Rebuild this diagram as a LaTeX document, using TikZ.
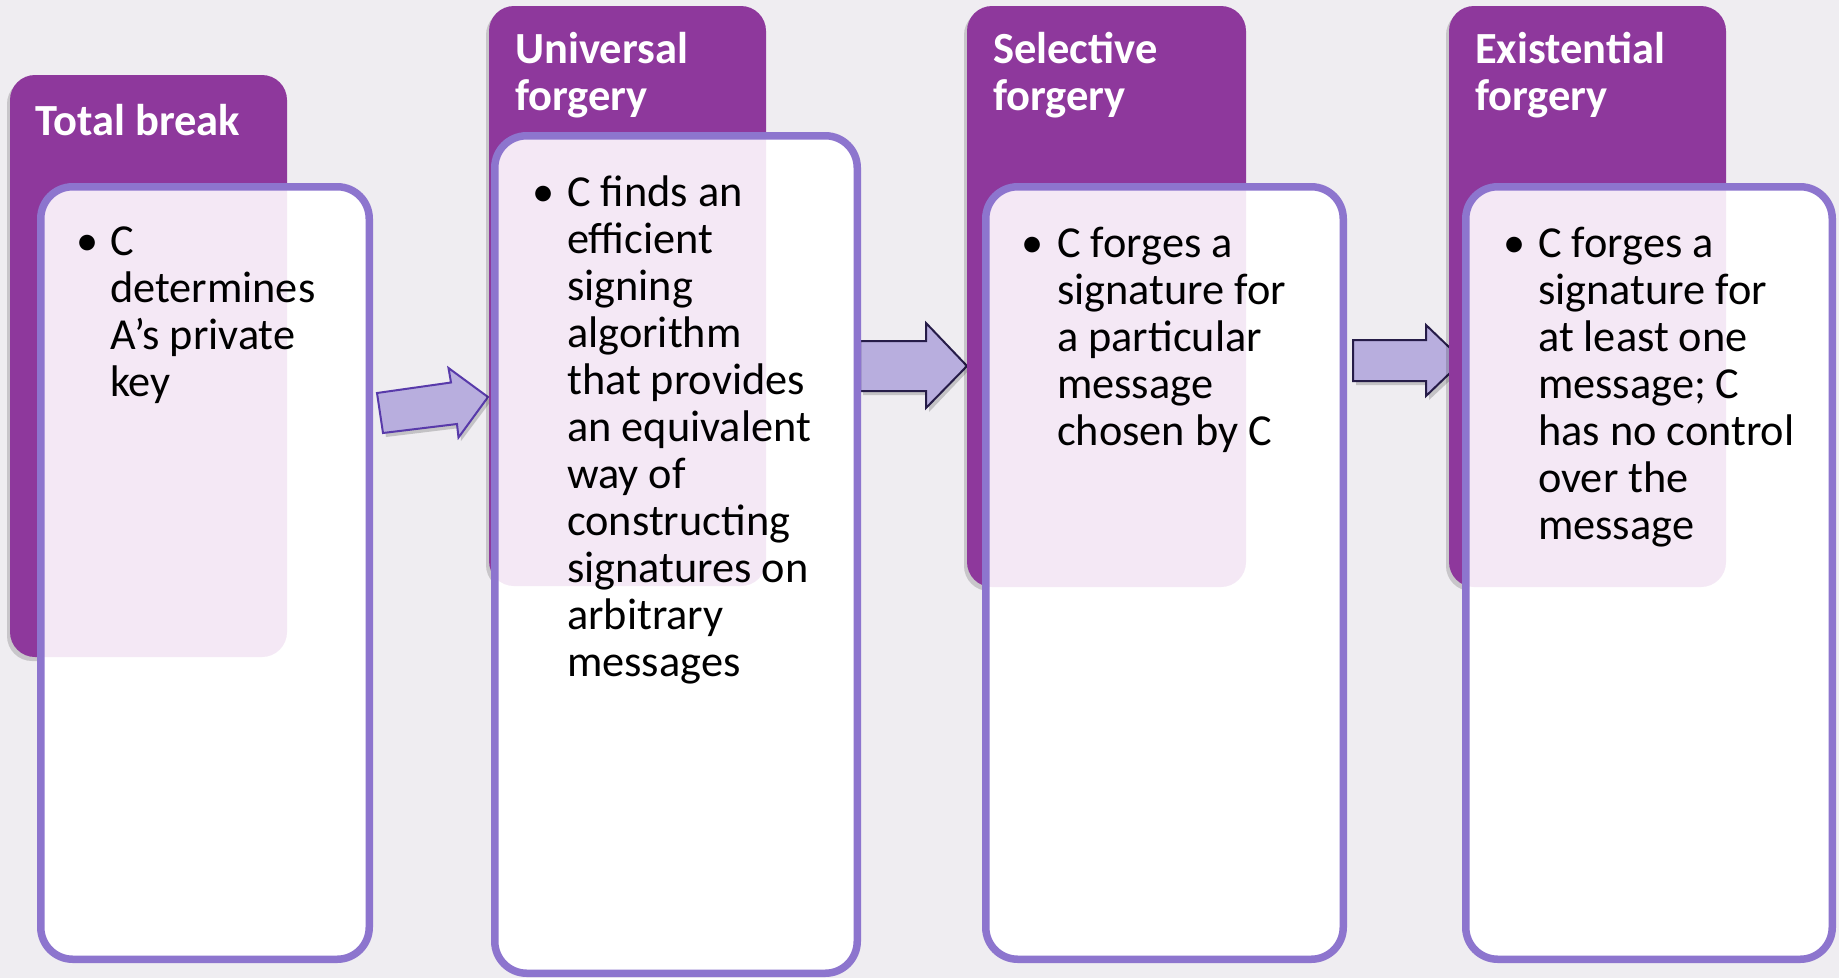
\documentclass[tikz,border=0pt]{standalone}
\usepackage{fontspec}
\setmainfont{Carlito}
\definecolor{bg}{RGB}{239,237,241}
\definecolor{hdr}{RGB}{142,56,156}
\definecolor{frame}{RGB}{141,117,206}
\definecolor{pinkov}{RGB}{244,232,245}
\definecolor{arrfill}{RGB}{184,174,222}
\definecolor{arrdrawA}{RGB}{88,58,170}
\definecolor{arrdrawB}{RGB}{38,28,72}
\tikzset{
  hdrbox/.style={fill=hdr, rounded corners=25pt},
  hdrshadow/.style={fill=black, opacity=0.16, rounded corners=25pt},
  pinkbox/.style={fill=pinkov, rounded corners=25pt},
  innerbox/.style={fill=white, rounded corners=32pt},
  framebox/.style={draw=frame, line width=7.5pt, rounded corners=32pt},
  headtext/.style={anchor=base west, inner sep=0pt, text=white, font=\fontsize{44.5}{47}\selectfont\bfseries},
  bodytext/.style={anchor=base west, inner sep=0pt, text=black, font=\fontsize{44.3}{47}\selectfont},
  bullettext/.style={anchor=base, inner sep=0pt, text=black, font=\fontsize{44.3}{47}\selectfont},
  blockarrow/.style={fill=arrfill, line width=2pt, line join=miter},
  arrowshadow/.style={fill=black, opacity=0.18},
}
\begin{document}
\begin{tikzpicture}[x=1pt, y=-1pt]
\useasboundingbox (0,0) rectangle (1839,978);
\fill[bg] (0,0) rectangle (1839,978);

% block arrows (shadows first)
\fill[arrowshadow] (380,397) -- (454,386) -- (451,372) -- (491,401) -- (461,441) -- (460,428) -- (386,437) -- cycle;
\fill[arrowshadow] (863,345) -- (929,345) -- (929,327) -- (970,369) -- (929,412) -- (929,395) -- (863,395) -- cycle;
\fill[arrowshadow] (1356,344) -- (1429,344) -- (1429,329) -- (1467,364.5) -- (1429,400) -- (1429,385) -- (1356,385) -- cycle;
\filldraw[blockarrow, draw=arrdrawA] (377,393) -- (451,382.5) -- (448.5,368) -- (488,397) -- (458.5,437.5) -- (457,424) -- (383,433) -- cycle;
\filldraw[blockarrow, draw=arrdrawB] (860,341) -- (926,341) -- (926,323) -- (967,366) -- (926,408) -- (926,391) -- (860,391) -- cycle;
\filldraw[blockarrow, draw=arrdrawB] (1353,340) -- (1426,340) -- (1426,325) -- (1463,360.5) -- (1426,396) -- (1426,381) -- (1353,381) -- cycle;

% header boxes with shadows
\fill[hdrshadow] (7,79) rectangle (285,661);
\fill[hdrshadow] (486,10) rectangle (764,590);
\fill[hdrshadow] (964,10) rectangle (1244,591);
\fill[hdrshadow] (1446,10) rectangle (1724,591);
\fill[hdrbox] (10,75) rectangle (287,657);
\fill[hdrbox] (489,6) rectangle (766,586);
\fill[hdrbox] (967,6) rectangle (1246,587);
\fill[hdrbox] (1449,6) rectangle (1726,587);

% white content boxes with pink overlap
\fill[innerbox] (40.75,186.75) rectangle (369.25,959.25);
\fill[innerbox] (494.75,135.75) rectangle (857.25,973.25);
\fill[innerbox] (985.75,186.75) rectangle (1343.25,959.25);
\fill[innerbox] (1465.75,186.75) rectangle (1832.25,959.25);
\begin{scope}
  \clip[rounded corners=32pt] (40.75,186.75) rectangle (369.25,959.25);
  \fill[pinkbox] (10,75) rectangle (287,657);
\end{scope}
\begin{scope}
  \clip[rounded corners=32pt] (494.75,135.75) rectangle (857.25,973.25);
  \fill[pinkbox] (489,6) rectangle (766,586);
\end{scope}
\begin{scope}
  \clip[rounded corners=32pt] (985.75,186.75) rectangle (1343.25,959.25);
  \fill[pinkbox] (967,6) rectangle (1246,587);
\end{scope}
\begin{scope}
  \clip[rounded corners=32pt] (1465.75,186.75) rectangle (1832.25,959.25);
  \fill[pinkbox] (1449,6) rectangle (1726,587);
\end{scope}
\draw[framebox] (40.75,186.75) rectangle (369.25,959.25);
\draw[framebox] (494.75,135.75) rectangle (857.25,973.25);
\draw[framebox] (985.75,186.75) rectangle (1343.25,959.25);
\draw[framebox] (1465.75,186.75) rectangle (1832.25,959.25);

% headings
\node[headtext] (h1) at (35,135) {\begin{tabular}[t]{@{}l@{}}Total break\end{tabular}};
\node[headtext] (h2) at (515,63) {\begin{tabular}[t]{@{}l@{}}Universal\\forgery\end{tabular}};
\node[headtext] (h3) at (993,63) {\begin{tabular}[t]{@{}l@{}}Selective\\forgery\end{tabular}};
\node[headtext] (h4) at (1475,63) {\begin{tabular}[t]{@{}l@{}}Existential\\forgery\end{tabular}};

% bodies
\node[bullettext] (b1) at (87.5,255) {\textbullet};
\node[bodytext] (t1) at (110,255) {\begin{tabular}[t]{@{}l@{}}C\\determines\\A’s private\\key\end{tabular}};
\node[bullettext] (b2) at (544,206) {\textbullet};
\node[bodytext] (t2) at (567,206) {\begin{tabular}[t]{@{}l@{}}C finds an\\efficient\\signing\\algorithm\\that provides\\an equivalent\\way of\\constructing\\signatures on\\arbitrary\\messages\end{tabular}};
\node[bullettext] (b3) at (1033,257) {\textbullet};
\node[bodytext] (t3) at (1057,257) {\begin{tabular}[t]{@{}l@{}}C forges a\\signature for\\a particular\\message\\chosen by C\end{tabular}};
\node[bullettext] (b4) at (1515,257) {\textbullet};
\node[bodytext] (t4) at (1538,257) {\begin{tabular}[t]{@{}l@{}}C forges a\\signature for\\at least one\\message; C\\has no control\\over the\\message\end{tabular}};
\end{tikzpicture}
\end{document}
